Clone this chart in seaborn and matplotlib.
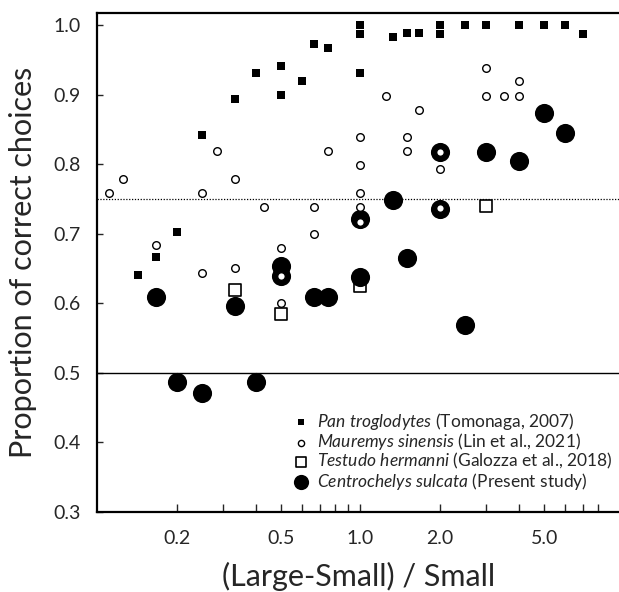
import matplotlib
matplotlib.use("Agg")
import matplotlib.pyplot as plt
import seaborn as sns
import pandas as pd
from matplotlib.ticker import FixedLocator, FixedFormatter, NullLocator

# ---- data ----
pan_x = [0.143, 0.167, 0.2, 0.25, 0.333, 0.4, 0.5, 0.5, 0.6, 0.667, 0.75, 1.0, 1.0, 1.0,
         1.33, 1.5, 1.67, 2.0, 2.0, 2.5, 3.0, 4.0, 5.0, 6.0, 7.0]
pan_y = [0.640, 0.667, 0.702, 0.842, 0.894, 0.931, 0.941, 0.899, 0.920, 0.973, 0.967, 1.0, 0.987, 0.931,
         0.983, 0.988, 0.988, 1.0, 0.987, 1.0, 1.0, 1.0, 1.0, 1.0, 0.987]

maur_x = [0.111, 0.125, 0.167, 0.25, 0.25, 0.286, 0.333, 0.333, 0.429, 0.5, 0.5, 0.5, 0.667, 0.667,
          0.75, 1.0, 1.0, 1.0, 1.0, 1.0, 1.25, 1.5, 1.5, 1.67, 2.0, 2.0, 2.0, 3.0, 3.0, 3.5, 4.0, 4.0]
maur_y = [0.759, 0.779, 0.683, 0.759, 0.644, 0.819, 0.779, 0.651, 0.739, 0.680, 0.639, 0.600, 0.739, 0.699,
          0.819, 0.839, 0.799, 0.759, 0.739, 0.717, 0.898, 0.839, 0.819, 0.878, 0.818, 0.793, 0.737, 0.938,
          0.898, 0.898, 0.919, 0.898]

test_x = [0.333, 0.5, 1.0, 3.0]
test_y = [0.619, 0.584, 0.624, 0.740]

cent_x = [0.167, 0.2, 0.25, 0.333, 0.4, 0.5, 0.5, 0.667, 0.75, 1.0, 1.0, 1.33, 1.5, 2.0, 2.0,
          2.5, 3.0, 4.0, 5.0, 6.0]
cent_y = [0.609, 0.486, 0.471, 0.596, 0.486, 0.654, 0.639, 0.609, 0.609, 0.721, 0.638, 0.749, 0.665,
          0.818, 0.735, 0.569, 0.818, 0.804, 0.873, 0.845]

labels = [r"$\it{Pan\ troglodytes}$ (Tomonaga, 2007)",
          r"$\it{Mauremys\ sinensis}$ (Lin et al., 2021)",
          r"$\it{Testudo\ hermanni}$ (Galozza et al., 2018)",
          r"$\it{Centrochelys\ sulcata}$ (Present study)"]

x_ticks = [0.2, 0.3, 0.4, 0.5, 0.6, 0.7, 0.8, 0.9, 1, 2, 3, 4, 5, 6, 7, 8]
x_ticklabels = ["0.2", "", "", "0.5", "", "", "", "", "1.0", "2.0", "", "", "5.0", "", "", ""]
y_ticks = [0.3, 0.4, 0.5, 0.6, 0.7, 0.8, 0.9, 1.0]
y_ticklabels = ["0.3", "0.4", "0.5", "0.6", "0.7", "0.8", "0.9", "1.0"]

# ---- style ----
sns.set_style("white")
plt.rcParams["font.family"] = ["Lato", "DejaVu Sans"]
plt.rcParams["mathtext.fontset"] = "custom"
plt.rcParams["mathtext.it"] = "Lato:italic"
plt.rcParams["mathtext.rm"] = "Lato"

fig = plt.figure(figsize=(6.19, 5.92), dpi=100)
ax = fig.add_axes([96.7 / 619, 1 - 511.7 / 592, 1 - 96.7 / 619 + 0.001, (511.7 - 13.3) / 592])

df_pan = pd.DataFrame({"x": pan_x, "y": pan_y})
df_maur = pd.DataFrame({"x": maur_x, "y": maur_y})
df_test = pd.DataFrame({"x": test_x, "y": test_y})
df_cent = pd.DataFrame({"x": cent_x, "y": cent_y})

sns.scatterplot(data=df_pan, x="x", y="y", marker="s", s=33, color="black", edgecolor="black",
                linewidth=0, ax=ax, zorder=3, label=labels[0])
sns.scatterplot(data=df_test, x="x", y="y", marker="s", s=78, facecolor="white", edgecolor="black",
                linewidth=1.2, ax=ax, zorder=2, label=labels[2])
sns.scatterplot(data=df_cent, x="x", y="y", marker="o", s=190, color="black", edgecolor="black",
                linewidth=0, ax=ax, zorder=3, label=labels[3])
sns.scatterplot(data=df_maur, x="x", y="y", marker="o", s=30, facecolor="white", edgecolor="black",
                linewidth=1.0, ax=ax, zorder=4, label=labels[1])

ax.axhline(0.5, color="black", lw=1.0, zorder=1)
ax.axhline(0.75, color="black", lw=0.9, ls=(0, (1, 1.3)), zorder=1)

ax.set_xscale("log")
ax.set_xlim(0.0995, 9.65)
ax.set_ylim(0.3, 1.017)
ax.xaxis.set_major_locator(FixedLocator(x_ticks))
ax.xaxis.set_major_formatter(FixedFormatter(x_ticklabels))
ax.xaxis.set_minor_locator(NullLocator())
ax.set_yticks(y_ticks)
ax.set_yticklabels(y_ticklabels)

ax.tick_params(axis="x", direction="in", length=5.5, width=1.0, pad=13, labelsize=14, bottom=True)
ax.tick_params(axis="y", direction="in", length=4.5, width=1.0, pad=11.5, labelsize=14, left=True)

for side in ["left", "bottom", "top"]:
    ax.spines[side].set_visible(True)
    ax.spines[side].set_linewidth(1.6)
    ax.spines[side].set_color("black")
ax.spines["right"].set_visible(False)

ax.set_xlabel("(Large-Small) / Small", fontsize=22, labelpad=11)
ax.set_ylabel("Proportion of correct choices", fontsize=22, labelpad=12)

handles, labs = ax.get_legend_handles_labels()
order = [labs.index(l) for l in labels]
leg = ax.legend([handles[i] for i in order], [labs[i] for i in order],
                loc="upper left", bbox_to_anchor=(0.374, 0.202), frameon=False,
                fontsize=12.5, handlelength=1.0, handletextpad=0.45, labelspacing=-0.05,
                borderpad=0, borderaxespad=0)
for h, sz in zip(leg.legend_handles, [14, 20, 62, 120]):
    h.set_sizes([sz])

fig.savefig("out.png", dpi=100)
